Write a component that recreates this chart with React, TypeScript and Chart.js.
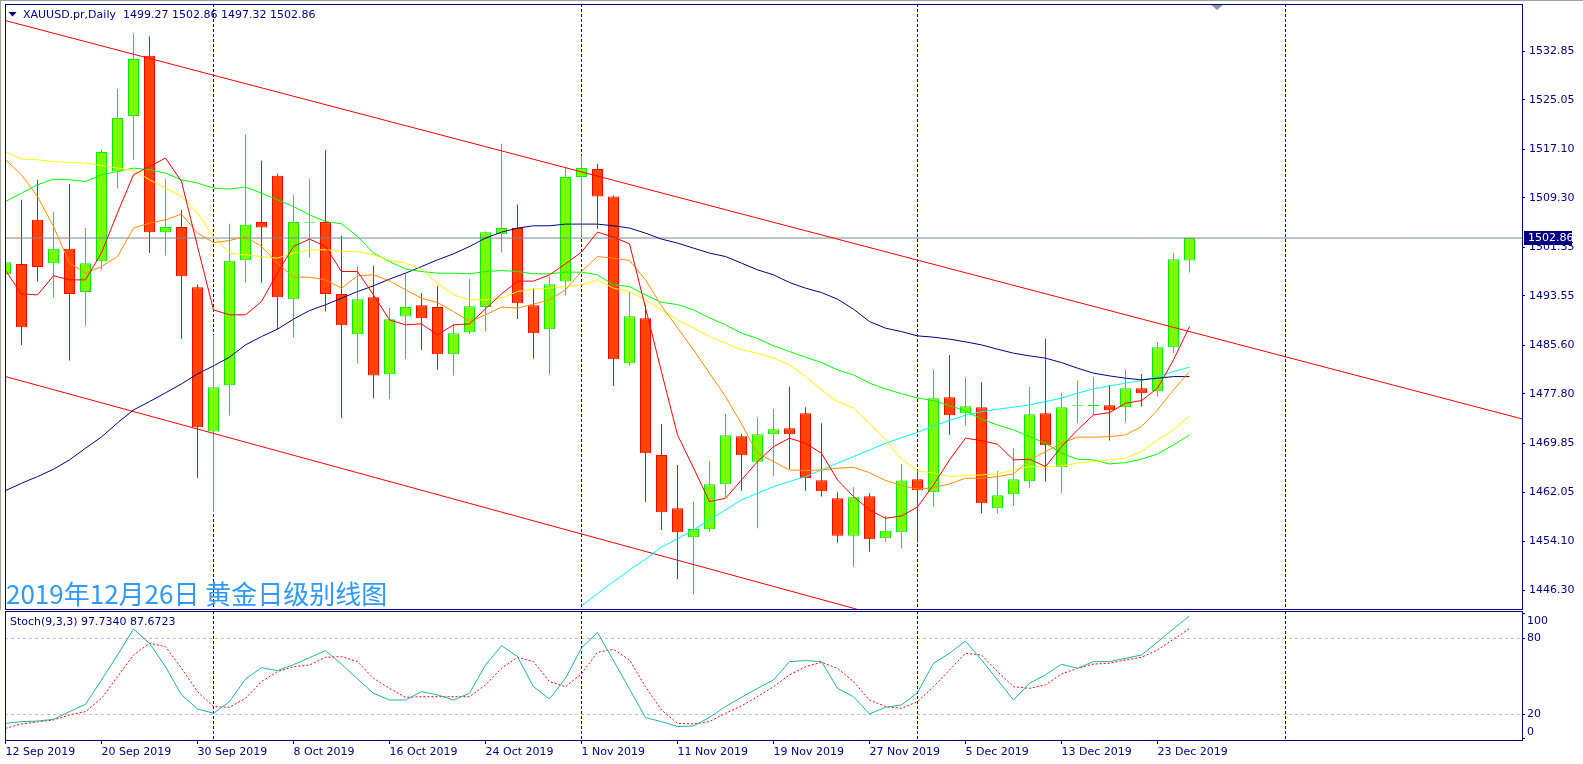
import React, { useEffect, useRef } from 'react';
import { Chart, registerables } from 'chart.js';

Chart.register(...registerables);

// ---------------- DATA ----------------
const opens = [
  1497.06, 1498.67, 1505.79, 1498.83, 1501.13, 1494.17, 1499.15, 1513.56, 1522.46, 1532.16,
  1503.81, 1504.62, 1494.97, 1471.76, 1479.22, 1499.31, 1505.42, 1512.86, 1493.04, 1505.31,
  1505.42, 1493.85, 1487.42, 1493.36, 1480.98, 1490.24, 1492.08, 1491.76, 1484.20, 1487.74,
  1491.76, 1503.49, 1504.46, 1492.08, 1488.22, 1495.87, 1512.66, 1513.94, 1509.54, 1482.75,
  1489.99, 1468.01, 1459.44, 1454.78, 1456.06, 1463.30, 1471.02, 1466.93, 1471.34, 1472.30,
  1474.71, 1463.94, 1461.05, 1455.04, 1461.37, 1454.62, 1455.58, 1464.10, 1462.01, 1477.29,
  1474.71, 1475.68, 1459.44, 1461.69, 1463.78, 1474.71, 1466.03, 1475.92, 1475.86, 1476.00,
  1475.68, 1478.73, 1478.25, 1485.33, 1499.27,
];
const highs = [
  1524.28, 1509.01, 1512.22, 1507.08, 1511.58, 1504.46, 1517.04, 1526.85, 1535.74, 1535.26,
  1512.38, 1507.40, 1495.34, 1487.30, 1505.15, 1519.46, 1515.28, 1513.19, 1509.81, 1512.38,
  1517.04, 1503.22, 1498.28, 1498.40, 1491.60, 1497.22, 1494.01, 1495.18, 1489.07, 1496.26,
  1503.91, 1518.01, 1508.20, 1494.81, 1496.68, 1514.20, 1516.13, 1514.79, 1509.65, 1494.26,
  1492.13, 1472.99, 1466.40, 1460.50, 1467.05, 1474.60, 1471.39, 1474.01, 1475.41, 1478.99,
  1475.68, 1473.11, 1462.01, 1462.82, 1461.85, 1458.20, 1466.56, 1465.33, 1481.68, 1484.05,
  1480.36, 1479.70, 1465.44, 1469.09, 1478.94, 1486.66, 1477.93, 1479.91, 1480.55, 1479.26,
  1481.68, 1481.03, 1486.13, 1500.44, 1502.86,
];
const lows = [
  1489.23, 1485.69, 1495.87, 1493.30, 1483.17, 1488.80, 1497.75, 1510.82, 1515.44, 1500.44,
  1500.05, 1486.66, 1464.36, 1458.89, 1474.33, 1495.71, 1495.71, 1488.11, 1486.93, 1499.79,
  1491.05, 1473.91, 1482.75, 1477.13, 1476.97, 1483.40, 1484.89, 1481.68, 1480.76, 1487.46,
  1487.83, 1500.53, 1489.87, 1483.49, 1481.03, 1493.62, 1503.11, 1504.34, 1479.10, 1482.32,
  1460.50, 1455.95, 1448.07, 1445.61, 1455.68, 1461.21, 1462.27, 1456.23, 1464.63, 1465.76,
  1462.27, 1461.31, 1453.91, 1450.05, 1452.46, 1454.07, 1452.98, 1453.94, 1459.70, 1471.27,
  1472.72, 1458.64, 1458.64, 1459.86, 1462.66, 1463.72, 1461.85, 1473.11, 1474.44, 1470.31,
  1473.20, 1475.78, 1477.38, 1484.36, 1497.32,
];
const closes = [
  1498.99, 1488.54, 1498.19, 1501.13, 1493.85, 1498.83, 1516.68, 1522.14, 1531.63, 1503.81,
  1504.62, 1496.74, 1472.46, 1478.89, 1499.20, 1504.99, 1504.55, 1493.36, 1505.42, 1505.47,
  1493.85, 1488.86, 1493.04, 1480.76, 1489.83, 1491.76, 1489.99, 1484.20, 1487.58, 1491.92,
  1503.81, 1504.46, 1492.40, 1487.58, 1495.45, 1512.66, 1514.10, 1509.54, 1483.40, 1490.31,
  1468.28, 1458.80, 1455.58, 1456.11, 1463.30, 1471.18, 1467.96, 1471.34, 1472.14, 1471.34,
  1464.26, 1462.17, 1455.04, 1461.21, 1454.46, 1455.84, 1463.88, 1462.35, 1477.13, 1474.39,
  1475.84, 1460.24, 1461.53, 1464.10, 1474.55, 1469.57, 1475.68, 1476.00, 1475.97, 1475.20,
  1478.73, 1477.93, 1485.33, 1499.47, 1502.86,
];

const maRed = [
  1497.64, 1493.85, 1493.73, 1496.79, 1496.14, 1496.14, 1500.49, 1506.92, 1513.03, 1514.36,
  1515.71, 1511.95, 1501.50, 1491.32, 1490.52, 1490.52, 1492.66, 1497.27, 1501.50, 1502.69,
  1501.50, 1497.48, 1497.48, 1493.73, 1489.71, 1488.91, 1489.07, 1487.30, 1488.91, 1489.07,
  1491.48, 1493.89, 1495.94, 1495.94, 1496.95, 1498.72, 1500.60, 1503.81, 1503.01, 1501.93,
  1491.64, 1481.35, 1471.23, 1465.92, 1460.50, 1461.05, 1463.99, 1466.93, 1469.34, 1470.70,
  1469.89, 1468.28, 1463.99, 1461.31, 1459.17, 1457.83, 1458.20, 1459.65, 1463.19, 1467.21,
  1470.70, 1470.31, 1469.73, 1467.21, 1467.32, 1466.13, 1469.34, 1472.03, 1474.44, 1474.81,
  1476.32, 1476.74, 1478.73, 1483.28, 1488.64,
];
const maOrange = [
  1515.44, 1513.03, 1509.54, 1504.71, 1498.83, 1497.22, 1498.28, 1499.89, 1504.46, 1505.26,
  1505.79, 1506.71, 1503.65, 1502.14, 1502.46, 1503.11, 1501.50, 1498.83, 1496.58, 1496.58,
  1496.14, 1494.81, 1496.79, 1496.95, 1495.98, 1494.54, 1493.20, 1492.50, 1491.05, 1489.44,
  1490.52, 1491.76, 1491.60, 1492.24, 1492.93, 1494.54, 1497.48, 1499.89, 1499.63, 1499.25,
  1496.14, 1491.96, 1488.43, 1484.89, 1481.15, 1477.38, 1472.99, 1468.28, 1466.93, 1465.60,
  1465.49, 1465.60, 1465.87, 1466.03, 1465.16, 1463.91, 1463.11, 1462.50, 1462.74, 1463.35,
  1464.26, 1464.26, 1464.52, 1464.96, 1467.21, 1468.54, 1469.89, 1470.86, 1470.86, 1470.95,
  1471.23, 1472.56, 1475.24, 1478.46, 1481.40,
];
const maYellow = [
  1516.77, 1515.55, 1515.44, 1515.16, 1515.00, 1514.91, 1514.52, 1514.10, 1513.72, 1512.22,
  1510.89, 1509.54, 1506.87, 1503.11, 1500.44, 1500.16, 1499.89, 1499.63, 1500.44, 1500.97,
  1500.97, 1500.69, 1500.69, 1500.16, 1499.28, 1498.83, 1497.87, 1495.61, 1493.73, 1492.93,
  1492.93, 1493.20, 1494.26, 1494.65, 1494.81, 1495.07, 1495.34, 1496.14, 1494.81, 1494.26,
  1492.93, 1491.32, 1489.71, 1488.38, 1487.03, 1485.97, 1484.89, 1484.36, 1483.56, 1482.48,
  1480.60, 1478.46, 1476.58, 1475.52, 1473.11, 1470.42, 1467.37, 1465.44, 1465.12, 1464.52,
  1464.71, 1464.79, 1464.96, 1465.60, 1466.13, 1466.13, 1466.24, 1466.68, 1466.93, 1467.21,
  1467.48, 1468.54, 1470.42, 1472.03, 1474.28,
];
const maGreen = [
  1508.73, 1510.08, 1511.42, 1512.33, 1512.22, 1511.95, 1513.03, 1513.56, 1514.10, 1513.83,
  1513.30, 1512.22, 1511.69, 1510.89, 1510.73, 1511.05, 1510.08, 1509.01, 1507.93, 1506.59,
  1505.52, 1505.15, 1503.11, 1500.44, 1499.09, 1497.87, 1497.48, 1497.22, 1497.22, 1497.11,
  1497.48, 1497.64, 1497.48, 1497.11, 1497.11, 1497.38, 1497.38, 1496.95, 1495.34, 1495.07,
  1493.73, 1492.53, 1492.17, 1491.32, 1490.04, 1488.91, 1487.58, 1486.71, 1485.53, 1484.62,
  1483.72, 1482.85, 1481.68, 1480.87, 1479.54, 1478.62, 1477.85, 1477.17, 1476.72, 1475.92,
  1475.08, 1473.75, 1472.83, 1472.03, 1470.95, 1469.89, 1468.28, 1467.32, 1467.21, 1466.56,
  1466.77, 1467.32, 1468.17, 1469.62, 1471.23,
];
const maNavy = [
  1462.27, 1463.46, 1464.52, 1465.71, 1467.21, 1469.09, 1470.90, 1473.15, 1475.24, 1476.58,
  1477.98, 1479.42, 1481.03, 1482.32, 1483.72, 1485.69, 1487.03, 1488.22, 1489.83, 1491.21,
  1492.13, 1493.20, 1494.26, 1495.18, 1496.26, 1497.22, 1498.28, 1499.36, 1500.32, 1501.50,
  1502.85, 1503.81, 1504.46, 1504.83, 1504.83, 1505.10, 1505.10, 1505.10, 1504.83, 1504.46,
  1503.65, 1502.69, 1502.05, 1501.24, 1500.44, 1499.89, 1498.83, 1497.75, 1496.95, 1495.71,
  1494.81, 1494.10, 1493.04, 1491.43, 1489.44, 1488.38, 1487.83, 1487.14, 1486.93, 1486.61,
  1486.18, 1485.69, 1485.00, 1484.36, 1483.93, 1483.56, 1482.85, 1481.95, 1481.15, 1480.71,
  1480.34, 1480.07, 1480.34, 1480.60, 1480.60,
];
const maCyan = [
  null, null, null, null, null, null, null, null, null, null,
  null, null, null, null, null, null, null, null, null, null,
  null, null, null, null, null, null, null, null, null, null,
  null, null, null, null, null, null, 1443.73, 1445.74, 1447.64, 1449.52,
  1451.24, 1453.22, 1454.51, 1455.95, 1457.56, 1459.17, 1460.78, 1461.85, 1462.91, 1463.72,
  1464.52, 1465.60, 1466.68, 1467.74, 1468.81, 1469.89, 1470.78, 1471.63, 1472.67, 1473.56,
  1474.39, 1474.97, 1475.36, 1475.68, 1476.05, 1476.58, 1477.13, 1477.93, 1478.62, 1479.10,
  1479.54, 1479.96, 1480.60, 1481.40, 1482.11,
];

const upperChannel = [
  { bar: 0, price: 1537.8 },
  { bar: 95, price: 1473.65 },
];
const lowerChannel = [
  { bar: 0, price: 1480.6 },
  { bar: 60, price: 1438.45 },
];

const stochK = [
  12.9, 14.2, 14.7, 16.0, 22.1, 27.9, 47.1, 66.8, 87.4, 76.0,
  57.6, 35.3, 24.2, 20.8, 30.0, 47.9, 56.8, 54.5, 59.2, 64.7,
  70.3, 59.5, 47.9, 36.6, 31.3, 31.3, 37.9, 35.3, 31.3, 36.6,
  58.9, 74.2, 65.5, 41.8, 32.1, 48.4, 72.4, 84.6, 62.4, 40.0,
  17.4, 14.2, 10.3, 10.8, 17.6, 26.1, 33.4, 40.5, 47.1, 61.6,
  62.4, 61.6, 40.5, 33.9, 20.3, 25.5, 27.4, 37.1, 60.3, 68.2,
  77.9, 62.9, 47.1, 31.3, 44.5, 51.1, 59.5, 56.3, 61.6, 61.6,
  64.2, 66.8, 77.1, 87.5, 97.734,
];
const stochD = [
  8.9, 12.4, 14.0, 15.5, 19.5, 22.1, 32.6, 49.7, 66.8, 76.1,
  73.4, 56.3, 37.9, 26.1, 25.5, 32.6, 45.8, 53.7, 57.6, 58.9,
  65.0, 65.5, 61.6, 48.4, 40.5, 33.4, 33.9, 33.9, 33.9, 33.9,
  43.2, 56.3, 65.0, 61.6, 45.8, 41.8, 52.0, 69.0, 71.3, 62.9,
  41.8, 23.4, 12.9, 12.4, 14.2, 20.8, 26.6, 33.9, 41.8, 51.1,
  57.6, 61.1, 56.3, 45.8, 31.3, 26.1, 24.7, 30.0, 41.8, 55.0,
  68.2, 66.8, 53.7, 41.8, 40.5, 43.2, 51.8, 56.3, 59.7, 60.3,
  62.9, 65.0, 70.8, 79.2, 87.6723,
];

const xTickBars = [0, 6, 12, 18, 24, 30, 36, 42, 48, 54, 60, 66, 72];
const xTickLabels = [
  '12 Sep 2019', '20 Sep 2019', '30 Sep 2019', '8 Oct 2019', '16 Oct 2019', '24 Oct 2019',
  '1 Nov 2019', '11 Nov 2019', '19 Nov 2019', '27 Nov 2019', '5 Dec 2019', '13 Dec 2019', '23 Dec 2019',
];
const priceTicks = [1446.3, 1454.1, 1462.05, 1469.85, 1477.8, 1485.6, 1493.55, 1501.35, 1509.3, 1517.1, 1525.05, 1532.85];
const stochTicks = [0, 20, 80, 100];
const stochLevels = [20, 80];
const separatorBars = [13, 36, 57, 80];

const symbolTitle = 'XAUUSD.pr,Daily';
const stochTitle = 'Stoch(9,3,3)';
const watermark = '2019年12月26日 黄金日级别线图';

// ---------------- STYLE ----------------
const NAVY = '#000080';
const FONT = 'DejaVu Sans';
const X_MIN = -1 / 32;
const X_MAX = X_MIN + 1517 / 16;
const Y_MIN = 1443.25;
const Y_MAX = 1540.47;
const S_MIN = -0.29;
const S_MAX = 101.55;

const BULL_FILL = '#7CFC00';
const BULL_LINE = '#00EE00';
const BEAR_FILL = '#FF4500';
const BEAR_LINE = '#FF0000';

const isBull = (i: number) => closes[i] >= opens[i];

const toPoints = (arr: (number | null)[]) =>
  arr.map((v, i) => (v == null ? null : { x: i, y: v })).filter((p) => p !== null) as { x: number; y: number }[];

const lineDs = (arr: (number | null)[], color: string, order: number) => ({
  type: 'line' as const,
  data: toPoints(arr),
  borderColor: color,
  borderWidth: 1,
  pointRadius: 0,
  tension: 0,
  fill: false,
  order,
  clip: 0,
});

const noPad = (s: any) => {
  s.paddingTop = 0;
  s.paddingBottom = 0;
  s.paddingLeft = 0;
  s.paddingRight = 0;
};

function drawSeparators(chart: any) {
  const { ctx, chartArea: a, scales } = chart;
  ctx.save();
  ctx.strokeStyle = NAVY;
  ctx.lineWidth = 1;
  ctx.setLineDash([3, 2]);
  for (const b of separatorBars) {
    const px = Math.floor(scales.x.getPixelForValue(b)) + 0.5;
    if (px < a.left || px > a.right) continue;
    ctx.beginPath();
    ctx.moveTo(px, a.top);
    ctx.lineTo(px, a.bottom);
    ctx.stroke();
  }
  ctx.restore();
}

function drawFrame(chart: any) {
  const { ctx, chartArea: a } = chart;
  ctx.save();
  ctx.strokeStyle = NAVY;
  ctx.lineWidth = 1;
  ctx.setLineDash([]);
  ctx.strokeRect(a.left + 0.5, a.top + 0.5, a.right - a.left, a.bottom - a.top);
  ctx.restore();
}

const mainPlugin = {
  id: 'mainDeco',
  beforeDatasetsDraw(chart: any) {
    drawSeparators(chart);
  },
  afterDatasetsDraw(chart: any) {
    const { ctx, chartArea: a, scales } = chart;
    drawFrame(chart);
    ctx.save();
    ctx.fillStyle = '#A0A0A0';
    ctx.fillRect(0, 0, chart.width, 1);
    ctx.fillRect(0, 0, 1, chart.height);
    ctx.fillStyle = '#8A96A8';
    ctx.beginPath();
    ctx.moveTo(1211, 5);
    ctx.lineTo(1223, 5);
    ctx.lineTo(1217, 10);
    ctx.closePath();
    ctx.fill();
    const last = closes.length - 1;
    ctx.fillStyle = NAVY;
    ctx.beginPath();
    ctx.moveTo(8.5, 12);
    ctx.lineTo(16.5, 12);
    ctx.lineTo(12.5, 16.5);
    ctx.closePath();
    ctx.fill();
    ctx.font = `11px '${FONT}'`;
    ctx.textBaseline = 'middle';
    ctx.textAlign = 'left';
    const ohlc = [opens[last], highs[last], lows[last], closes[last]].map((v) => v.toFixed(2)).join(' ');
    ctx.fillText(`${symbolTitle}  ${ohlc}`, 23, 15);
    const y = Math.round(scales.y.getPixelForValue(closes[last]));
    ctx.fillStyle = NAVY;
    ctx.fillRect(a.right + 2, y - 7, 48, 14);
    ctx.fillStyle = '#FFFFFF';
    ctx.fillText(closes[last].toFixed(2), a.right + 6, y + 0.5);
    ctx.fillStyle = '#2E9AFE';
    ctx.font = `26px 'Noto Sans CJK SC'`;
    ctx.fillText(watermark, 6, 594);
    ctx.restore();
  },
};

const stochPlugin = {
  id: 'stochDeco',
  beforeDatasetsDraw(chart: any) {
    const { ctx, chartArea: a, scales } = chart;
    ctx.save();
    ctx.strokeStyle = '#C0C0C0';
    ctx.lineWidth = 1;
    ctx.setLineDash([3, 3]);
    for (const lv of stochLevels) {
      const py = Math.floor(scales.y.getPixelForValue(lv)) + 0.5;
      ctx.beginPath();
      ctx.moveTo(a.left, py);
      ctx.lineTo(a.right, py);
      ctx.stroke();
    }
    ctx.restore();
    drawSeparators(chart);
  },
  afterDatasetsDraw(chart: any) {
    const { ctx, chartArea: a, scales } = chart;
    drawFrame(chart);
    ctx.save();
    ctx.font = `11px '${FONT}'`;
    ctx.textBaseline = 'middle';
    ctx.textAlign = 'left';
    ctx.fillStyle = NAVY;
    const last = stochK.length - 1;
    ctx.fillText(`${stochTitle} ${stochK[last].toFixed(4)} ${stochD[last].toFixed(4)}`, 10, 12.5);
    ctx.strokeStyle = NAVY;
    ctx.lineWidth = 1;
    for (const t of stochTicks) {
      const py = scales.y.getPixelForValue(t);
      const ly = Math.min(Math.max(py, a.top + 10), a.bottom - 8);
      ctx.fillText(String(t), a.right + 5, ly);
      const ty = Math.floor(Math.min(Math.max(py, a.top + 2), a.bottom - 2)) + 0.5;
      ctx.beginPath();
      ctx.moveTo(a.right, ty);
      ctx.lineTo(a.right + 3, ty);
      ctx.stroke();
    }
    ctx.restore();
  },
};

function mainConfig(): any {
  const bodies = opens.map((o, i) => ({ x: i, y: [o, closes[i]] }));
  const wicks = lows.map((l, i) => ({ x: i, y: [l, highs[i]] }));
  const lastClose = closes[closes.length - 1];
  return {
    type: 'bar',
    data: {
      datasets: [
        lineDs(maRed, '#FF0000', 1),
        lineDs(maOrange, '#FF8C00', 2),
        lineDs(maYellow, '#FFFF00', 3),
        lineDs(maGreen, '#00FF00', 4),
        lineDs(maNavy, '#000080', 5),
        lineDs(maCyan, '#00FFFF', 6),
        {
          type: 'line',
          data: upperChannel.map((p) => ({ x: p.bar, y: p.price })),
          borderColor: '#FF0000',
          borderWidth: 1,
          pointRadius: 0,
          order: 7,
          clip: 0,
        },
        {
          type: 'line',
          data: lowerChannel.map((p) => ({ x: p.bar, y: p.price })),
          borderColor: '#FF0000',
          borderWidth: 1,
          pointRadius: 0,
          order: 7,
          clip: 0,
        },
        {
          type: 'line',
          data: [
            { x: X_MIN, y: lastClose },
            { x: X_MAX, y: lastClose },
          ],
          borderColor: '#778899',
          borderWidth: 1,
          pointRadius: 0,
          order: 8,
          clip: 0,
        },
        {
          type: 'bar',
          data: bodies,
          barThickness: 11,
          grouped: false,
          borderWidth: 1,
          borderSkipped: false,
          inflateAmount: 0,
          minBarLength: 1,
          backgroundColor: (c: any) => (isBull(c.dataIndex ?? 0) ? BULL_FILL : BEAR_FILL),
          borderColor: (c: any) => (isBull(c.dataIndex ?? 0) ? BULL_LINE : BEAR_LINE),
          order: 9,
          clip: 0,
        },
        {
          type: 'bar',
          data: wicks,
          barThickness: 1,
          grouped: false,
          borderWidth: 0,
          borderSkipped: false,
          inflateAmount: 0,
          backgroundColor: (c: any) => (isBull(c.dataIndex ?? 0) ? BULL_LINE : BEAR_LINE),
          order: 10,
          clip: 0,
        },
      ],
    },
    options: {
      responsive: false,
      animation: false,
      events: [],
      layout: { padding: { left: 5, top: 4, right: 0, bottom: 1 } },
      plugins: { legend: { display: false }, tooltip: { enabled: false } },
      scales: {
        x: { type: 'linear', min: X_MIN, max: X_MAX, display: false, offset: false },
        y: {
          type: 'linear',
          position: 'right',
          min: Y_MIN,
          max: Y_MAX,
          afterFit: (s: any) => {
            s.width = 61;
            noPad(s);
          },
          afterBuildTicks: (s: any) => {
            s.ticks = priceTicks.map((v) => ({ value: v }));
          },
          grid: { display: true, drawOnChartArea: false, drawTicks: true, tickLength: 3, color: NAVY },
          border: { display: false },
          ticks: {
            autoSkip: false,
            padding: 4,
            color: NAVY,
            font: { family: FONT, size: 11 },
            callback: (v: any) => Number(v).toFixed(2),
          },
        },
      },
    },
    plugins: [mainPlugin],
  };
}

function stochConfig(): any {
  return {
    type: 'line',
    data: {
      datasets: [
        {
          data: toPoints(stochK),
          borderColor: '#20B2AA',
          borderWidth: 1,
          pointRadius: 0,
          tension: 0,
          order: 1,
          clip: 0,
        },
        {
          data: toPoints(stochD),
          borderColor: '#FF0000',
          borderWidth: 1,
          borderDash: [2, 2],
          pointRadius: 0,
          tension: 0,
          order: 2,
          clip: 0,
        },
      ],
    },
    options: {
      responsive: false,
      animation: false,
      events: [],
      layout: { padding: { left: 5, top: 1, right: 0, bottom: 0 } },
      plugins: { legend: { display: false }, tooltip: { enabled: false } },
      scales: {
        x: {
          type: 'linear',
          min: X_MIN,
          max: X_MAX,
          offset: false,
          afterFit: (s: any) => {
            s.height = 24;
            noPad(s);
          },
          afterBuildTicks: (s: any) => {
            s.ticks = xTickBars.map((v) => ({ value: v }));
          },
          grid: { display: true, drawOnChartArea: false, drawTicks: true, tickLength: 4, color: NAVY },
          border: { display: false },
          ticks: {
            autoSkip: false,
            maxRotation: 0,
            minRotation: 0,
            align: 'start',
            padding: 2,
            color: NAVY,
            font: { family: FONT, size: 11 },
            callback: (_v: any, i: number) => xTickLabels[i],
          },
        },
        y: {
          type: 'linear',
          position: 'right',
          min: S_MIN,
          max: S_MAX,
          afterFit: (s: any) => {
            s.width = 61;
            noPad(s);
          },
          ticks: { display: false },
          grid: { display: false },
          border: { display: false },
        },
      },
    },
    plugins: [stochPlugin],
  };
}

export default function App() {
  const mainRef = useRef<HTMLCanvasElement>(null);
  const stochRef = useRef<HTMLCanvasElement>(null);
  useEffect(() => {
    Chart.defaults.font.family = FONT;
    const c1 = new Chart(mainRef.current as HTMLCanvasElement, mainConfig());
    const c2 = new Chart(stochRef.current as HTMLCanvasElement, stochConfig());
    return () => {
      c1.destroy();
      c2.destroy();
    };
  }, []);
  return (
    <div
      style={{
        position: 'absolute',
        left: 0,
        top: 0,
        width: 1583,
        height: 764,
        background: '#FFFFFF',
        overflow: 'hidden',
      }}
    >
      <canvas ref={mainRef} width={1583} height={610} style={{ position: 'absolute', left: 0, top: 0 }} />
      <canvas ref={stochRef} width={1583} height={154} style={{ position: 'absolute', left: 0, top: 610 }} />
    </div>
  );
}
